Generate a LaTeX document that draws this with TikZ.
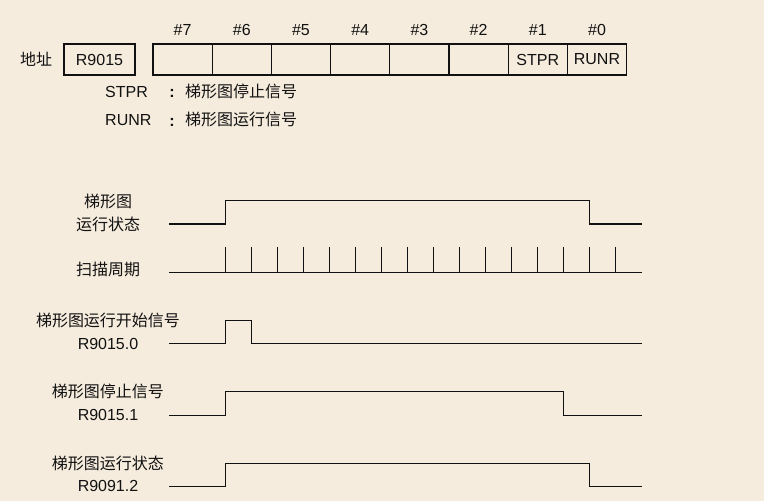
\documentclass[tikz,border=0pt]{standalone}
\usepackage{fontspec}
\setmainfont{Liberation Sans}
\newfontfamily\cjk{Noto Sans CJK SC}
\definecolor{bg}{RGB}{245,236,221}
\definecolor{ink}{RGB}{17,17,17}
\tikzset{
  txt/.style={font=\fontsize{16}{19}\selectfont, inner sep=0pt, text height=11.4pt, text depth=0pt, text=ink},
  ctxt/.style={txt, font=\fontsize{16}{19}\selectfont\cjk},
  cell/.style={draw=ink, line width=1.2pt, minimum width=59.2pt, minimum height=31pt, inner sep=0pt, font=\fontsize{16}{19}\selectfont, text=ink},
  wave/.style={draw=ink, line width=1.2pt},
}
\begin{document}
\begin{tikzpicture}[x=1pt,y=-1pt]
\fill[bg] (0,0) rectangle (764,501);
\useasboundingbox (0,0) rectangle (764,501);
% register
\node[ctxt] (addr) at (36,60) {地址};
\node[cell, minimum width=71pt] (reg) at (99.5,59.5) {R9015};
\foreach \b/\t [count=\i from 0] in {7/,6/,5/,4/,3/,2/,1/STPR,0/RUNR}{
  \node[cell] (c\b) at ({153+59.2*(\i+0.5)},59.5) {\t};
  \node[txt] (h\b) at ({153+59.2*(\i+0.5)},29.5) {\#\b};
}
\node[txt, anchor=west] (stpr) at (105,91.5) {STPR};
\node[txt, font=\fontsize{16}{19}\selectfont\bfseries] (col1) at (172,92) {:};
\node[ctxt, anchor=west] (stprd) at (185,91.5) {梯形图停止信号};
\node[txt, anchor=west] (runr) at (105,120) {RUNR};
\node[txt, font=\fontsize{16}{19}\selectfont\bfseries] (col2) at (172,120.5) {:};
\node[ctxt, anchor=west] (runrd) at (185,120) {梯形图运行信号};
% labels
\node[ctxt] (l1a) at (108,201.5) {梯形图};
\node[ctxt] (l1b) at (108,224.3) {运行状态};
\node[ctxt] (l2) at (108,270) {扫描周期};
\node[ctxt] (l3a) at (108,320.7) {梯形图运行开始信号};
\node[txt] (l3b) at (108,343.3) {R9015.0};
\node[ctxt] (l4a) at (108,391.7) {梯形图停止信号};
\node[txt] (l4b) at (108,415) {R9015.1};
\node[ctxt] (l5a) at (108,463.8) {梯形图运行状态};
\node[txt] (l5b) at (108,486) {R9091.2};
% waveforms
\draw[wave] (169,224) -- (225.7,224) -- (225.7,200.3) -- (589.3,200.3) -- (589.3,224) -- (641.7,224);
\draw[wave] (169,272.3) -- (641.7,272.3);
\foreach \i in {0,...,15}{
  \draw[wave] ({225.7+26*\i},272.3) -- ++(0,-25.3);
}
\draw[wave] (169,343.3) -- (225.7,343.3) -- (225.7,320.3) -- (251.3,320.3) -- (251.3,343.3) -- (641.7,343.3);
\draw[wave] (169,415.3) -- (225.7,415.3) -- (225.7,391.3) -- (563.3,391.3) -- (563.3,415.3) -- (641.7,415.3);
\draw[wave] (169,486.3) -- (225.7,486.3) -- (225.7,463.3) -- (589.3,463.3) -- (589.3,486.3) -- (641.7,486.3);
\end{tikzpicture}
\end{document}
